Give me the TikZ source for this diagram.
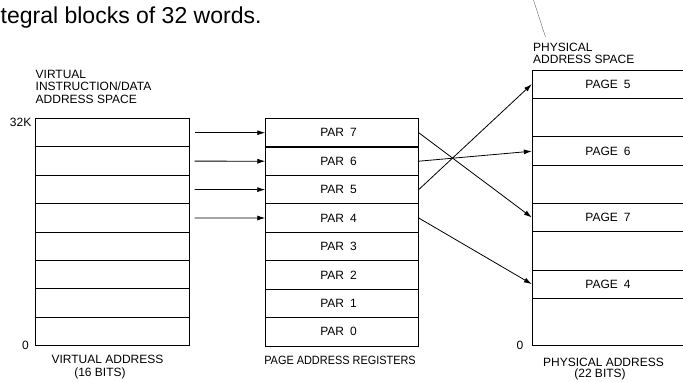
\documentclass[tikz,border=0pt]{standalone}
\usepackage{fontspec}
\setmainfont{Liberation Sans}
\newfontfamily\lblfont{Liberation Sans}
\newfontfamily\narrowlbl[FakeStretch=0.91]{Liberation Sans}
\usetikzlibrary{arrows.meta}
\begin{document}
\begin{tikzpicture}[x=1pt,y=-1pt,
  lab/.style={inner sep=0pt, font=\lblfont\fontsize{12}{12.5}\selectfont},
  cell/.style={draw, line width=0.9pt, inner sep=0pt, font=\lblfont\fontsize{12}{12.5}\selectfont},
  vrow/.style={cell, minimum width=154.3pt, minimum height=28.4pt},
  prow/.style={cell, minimum width=152.6pt, minimum height=28.44pt},
  phrow/.style={cell, minimum width=151.4pt},
  conn/.style={line width=0.8pt, -{Latex[length=8pt,width=5pt]}}
]
\useasboundingbox (0,0) rectangle (683,381);
\clip (0,0) rectangle (683,381);

% top text (cut-off caption)
\node[anchor=base west, inner sep=0pt, font=\fontsize{23}{26}\selectfont] (toptext) at (0.5,23.3) {tegral blocks of 32 words.};
\coordinate (pa) at (533.5,0);
\coordinate (pb) at (545.5,37);
\draw[line width=0.4pt, black!60] (pa) -- (pb);

% virtual address space
\node[lab, align=left, anchor=north west] (vtitle) at (35.5,70) {VIRTUAL\\INSTRUCTION/DATA\\ADDRESS SPACE};
\foreach \i/\y in {7/132.7,6/161.1,5/189.5,4/217.9,3/246.3,2/274.7,1/303.1,0/331.5}
  \node[vrow] (v\i) at (112.2,\y) {};
\node[lab, anchor=east] (k32) at (31.5,122) {32K};
\node[lab, anchor=east] (zl) at (29,345) {0};
\node[lab, anchor=base] (vaddr) at (107.5,363.3) {VIRTUAL ADDRESS};
\node[lab, anchor=base] (vbits) at (100,376.5) {(16 BITS)};

% page address registers
\foreach \i/\y in {7/132.7,6/161.2,5/189.6,4/218.0,3/246.5,2/274.9,1/303.4,0/331.8}
  \node[prow] (p\i) at (342,\y) {}; 
\foreach \i/\y in {7/132.7,6/161.2,5/189.6,4/218.0,3/246.5,2/274.9,1/303.4,0/331.8}
  \node[lab] (pt\i) at (338.5,\y) {PAR\hspace{0.5em}\i};
\node[lab, anchor=base, font=\narrowlbl\fontsize{12}{12.5}\selectfont] (parlab) at (340,364.3) {PAGE ADDRESS REGISTERS};

% physical address space
\node[lab, align=left, anchor=north west] (ptitle) at (533,42.5) {PHYSICAL\\ADDRESS SPACE};
\node[phrow, minimum height=28.3pt] (g5) at (608,84.15) {PAGE\hspace{0.5em}5};
\node[phrow, minimum height=38.4pt] (e1) at (608,117.5) {};
\node[phrow, minimum height=29pt]   (g6) at (608,151.2) {PAGE\hspace{0.5em}6};
\node[phrow, minimum height=37.6pt] (e2) at (608,184.5) {};
\node[phrow, minimum height=28.4pt] (g7) at (608,217.5) {PAGE\hspace{0.5em}7};
\node[phrow, minimum height=38.3pt] (e3) at (608,250.85) {};
\node[phrow, minimum height=28.3pt] (g4) at (608,284.15) {PAGE\hspace{0.5em}4};
\node[phrow, minimum height=47.4pt] (e4) at (608,322) {};
\node[lab, anchor=east] (zr) at (523.5,345) {0};
\node[lab, anchor=base] (paddr) at (603.5,366) {PHYSICAL ADDRESS};
\node[lab, anchor=base] (pbits) at (600,377.5) {(22 BITS)};

% connectors
\foreach \i in {7,6,5,4}
  \draw[conn] ([xshift=4.7pt]v\i.east) -- (p\i.west);
\draw[conn] (p7.east) -- (g7.west);
\draw[conn] (p6.east) -- (g6.west);
\draw[conn] (p5.east) -- (g5.west);
\draw[conn] (p4.east) -- (g4.west);
\end{tikzpicture}
\end{document}
